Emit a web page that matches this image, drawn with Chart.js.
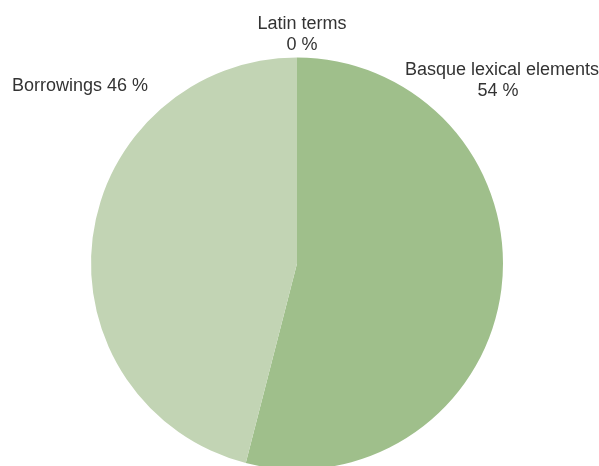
<!DOCTYPE html>
<html>
<head>
<meta charset="utf-8">
<script src="https://cdn.jsdelivr.net/npm/chart.js@4/dist/chart.umd.min.js"></script>
<style>
  html, body { margin: 0; padding: 0; background: #fff; }
  #wrap { width: 599px; height: 466px; position: relative; }
</style>
</head>
<body>
<div id="wrap"><canvas id="pie"></canvas></div>
<script>
const categories = ['Basque lexical elements', 'Borrowings', 'Latin terms'];
const shares = [54, 46, 0];
const sliceColors = ['#9fbf8b', '#c2d4b4', '#d9e5d0'];

// labels were placed by hand in the original, so keep them where they were
const labelSpots = [
    { lines: ['Basque lexical elements', '54 %'], xs: [502, 498], y: 75 },
    { lines: ['Borrowings 46 %'], xs: [80], y: 91 },
    { lines: ['Latin terms', '0 %'], xs: [302, 302], y: 29 }
];

const sliceLabels = {
    id: 'sliceLabels',
    afterDraw(chart) {
        const ctx = chart.ctx;
        ctx.save();
        ctx.font = '18px "Liberation Sans", Arial, sans-serif';
        ctx.fillStyle = '#333333';
        ctx.textAlign = 'center';
        ctx.textBaseline = 'alphabetic';
        labelSpots.forEach(spot => {
            spot.lines.forEach((line, j) => {
                ctx.fillText(line, spot.xs[j], spot.y + j * 21);
            });
        });
        ctx.restore();
    }
};

new Chart(document.getElementById('pie'), {
    type: 'pie',
    data: {
        labels: categories,
        datasets: [{
            data: shares,
            backgroundColor: sliceColors,
            borderWidth: 0
        }]
    },
    options: {
        responsive: true,
        maintainAspectRatio: false,
        animation: false,
        radius: 206,
        layout: { padding: { top: 61, right: 5, bottom: 0, left: 0 } },
        plugins: {
            legend: { display: false },
            tooltip: { enabled: false }
        }
    },
    plugins: [sliceLabels]
});
</script>
</body>
</html>
